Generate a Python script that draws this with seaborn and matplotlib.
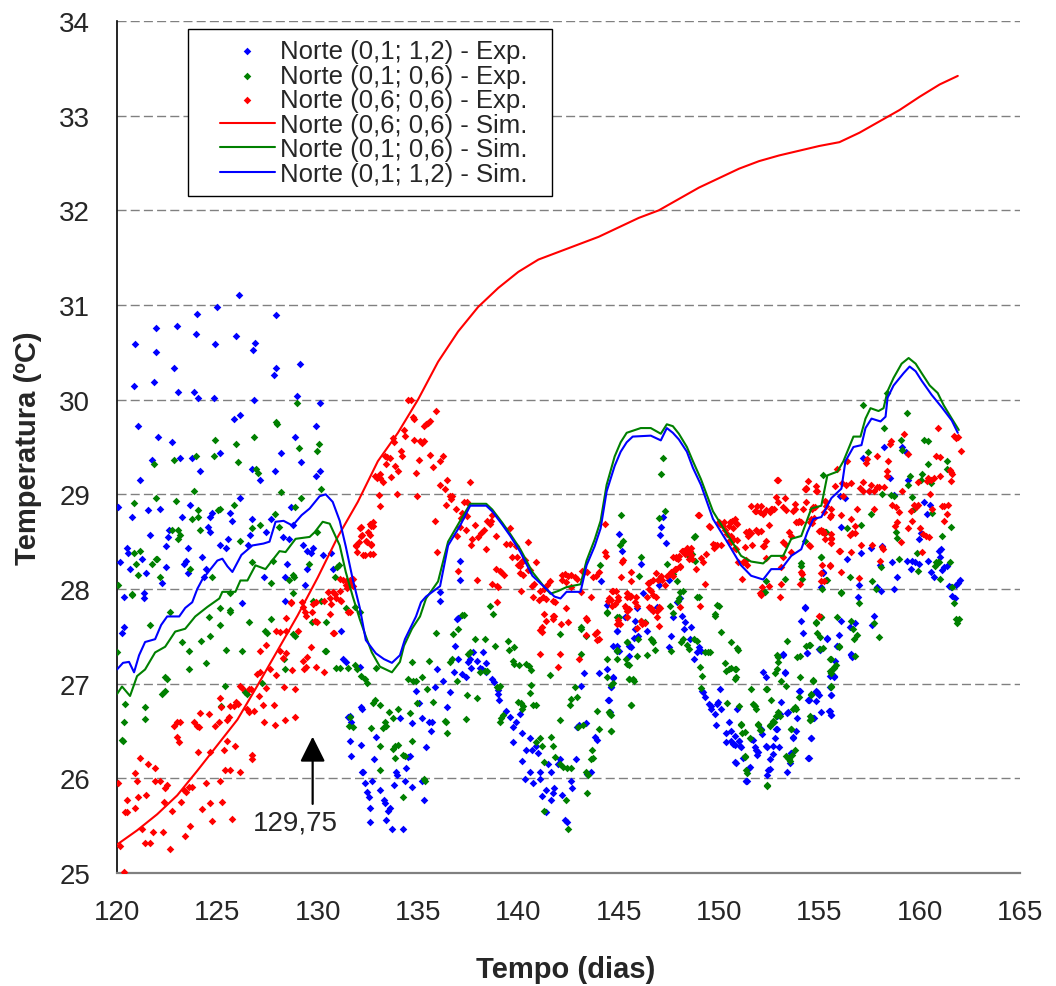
import matplotlib
matplotlib.use("Agg")
import matplotlib.pyplot as plt
from matplotlib.patches import Rectangle
import seaborn as sns

# ---------------------------------------------------------------------------
# Data: days (tempo) and temperatures (ºC)
# ---------------------------------------------------------------------------

# Experimental readings, Norte (0,1; 1,2)
exp_01_12 = [
    (126.1, 31.11), (127.9, 30.89), (125.0, 30.98), (124.0, 30.90), (123.0, 30.78), (121.95, 30.76),
    (120.9, 30.59), (121.95, 30.50), (123.95, 30.69), (125.95, 30.67), (124.9, 30.59), (126.9, 30.60),
    (126.8, 30.52), (127.9, 30.33), (127.8, 30.26), (129.1, 30.38), (122.85, 30.33), (120.85, 30.14),
    (121.85, 30.19), (123.05, 30.08), (123.85, 30.08), (124.05, 30.02), (124.85, 30.02), (126.85, 30.0),
    (128.95, 30.04), (130.1, 29.97), (126.15, 29.84), (125.85, 29.80), (121.05, 29.72), (129.9, 29.72),
    (122.05, 29.61), (122.75, 29.55), (128.85, 29.61), (125.15, 29.44), (128.15, 29.44), (121.75, 29.36),
    (123.15, 29.38), (123.75, 29.38), (129.15, 29.34), (124.15, 29.25), (126.75, 29.27), (127.15, 29.15),
    (127.85, 29.25), (129.9, 29.19), (130.1, 29.25), (121.15, 29.15), (126.15, 28.96), (120.05, 28.87),
    (123.65, 28.89), (122.15, 28.85), (121.55, 28.83), (120.75, 28.76), (123.25, 28.76), (124.65, 28.76),
    (124.75, 28.80), (125.65, 28.80), (125.75, 28.72), (126.75, 28.74), (127.65, 28.74), (128.65, 28.87),
    (128.75, 28.68), (121.65, 28.57), (122.55, 28.55), (122.6, 28.62), (124.55, 28.66), (124.65, 28.60),
    (125.55, 28.53), (126.65, 28.57), (127.45, 28.60), (128.25, 28.55), (128.55, 28.53), (120.5, 28.43),
    (120.55, 28.38), (122.45, 28.45), (123.55, 28.43), (125.15, 28.47), (125.45, 28.43), (126.55, 28.47),
    (129.25, 28.47), (129.45, 28.40), (129.65, 28.38), (129.75, 28.43), (121.25, 28.32), (120.15, 28.28),
    (124.25, 28.34), (123.35, 28.26), (123.45, 28.30), (130.25, 28.36), (130.65, 28.38), (120.65, 28.21),
    (121.45, 28.17), (122.45, 28.23), (122.25, 28.06), (123.55, 28.17), (124.45, 28.21), (124.35, 28.13),
    (128.45, 28.26), (127.35, 28.13), (128.35, 28.13), (129.45, 28.21), (129.35, 28.04), (120.35, 27.92),
    (121.35, 27.96), (121.35, 27.90), (126.25, 27.85), (128.35, 27.87), (120.35, 27.60), (120.25, 27.54),
    (130.75, 28.21), (131.15, 27.56), (131.25, 27.26), (131.4, 27.23), (132.1, 27.18),
    (131.6, 26.66), (131.65, 26.59), (131.6, 26.39), (131.65, 26.24), (132.2, 26.73), (132.2, 26.07),
    (131.5, 26.65), (132.15, 26.75), (132.15, 26.35), (132.25, 26.07), (132.35, 25.95), (132.45, 25.86),
    (132.55, 25.80), (132.6, 25.69), (132.6, 25.54), (132.7, 25.97), (132.8, 26.20), (132.9, 26.44),
    (133.1, 25.88), (133.3, 25.77), (133.35, 25.74), (133.4, 25.56), (133.5, 25.65), (133.6, 25.69),
    (133.7, 25.46), (133.8, 25.93), (133.9, 26.07), (133.95, 26.03), (134.1, 26.64), (134.25, 25.46),
    (134.35, 25.97), (134.4, 26.11), (134.5, 26.23), (134.6, 26.24), (134.7, 26.58), (134.7, 25.91),
    (135.05, 26.80), (135.2, 25.97), (135.3, 25.77), (135.2, 26.64), (135.4, 26.33), (135.55, 26.59),
    (135.7, 26.59), (135.65, 26.50), (134.9, 26.92), (135.85, 26.96), (135.95, 27.15), (136.1, 27.87),
    (136.1, 27.97), (137.1, 28.09), (137.1, 28.30), (137.0, 27.69), (136.45, 26.75), (136.25, 27.03),
    (136.6, 26.91), (136.8, 27.12), (136.85, 27.40), (136.95, 27.68), (137.0, 27.26), (137.2, 27.10),
    (137.4, 27.07), (137.5, 27.23), (137.6, 27.26), (137.65, 27.17), (137.75, 27.33), (137.95, 27.24),
    (138.1, 27.17), (138.2, 27.15), (138.25, 27.33), (138.4, 27.22), (138.4, 27.12), (138.7, 27.05),
    (138.8, 27.02), (138.98, 26.93), (139.0, 26.89), (139.05, 26.83), (139.4, 26.71), (139.6, 26.65),
    (139.75, 26.54), (139.9, 26.59), (140.1, 26.68), (139.75, 26.38), (140.2, 26.18), (140.2, 26.48),
    (140.35, 25.99), (140.4, 26.30), (140.6, 26.43), (140.6, 26.07), (140.7, 26.30), (140.75, 25.95),
    (140.9, 26.34), (141.0, 26.27), (141.1, 26.07), (141.1, 25.99), (141.2, 25.81), (141.4, 25.88),
    (141.4, 25.64), (141.5, 26.15), (141.65, 26.07), (141.65, 25.77), (141.75, 25.85), (141.8, 25.90),
    (142.0, 26.15), (142.1, 26.20), (142.2, 25.82), (142.35, 25.56), (142.45, 25.54), (142.6, 25.97),
    (142.65, 25.90), (142.85, 26.20), (142.9, 26.54), (143.0, 26.56), (143.1, 26.98), (143.25, 27.11),
    (143.35, 26.58), (143.4, 26.05), (143.6, 26.07), (143.8, 26.44), (143.9, 26.41), (144.0, 27.11),
    (144.4, 27.15), (144.45, 26.83), (144.6, 26.96), (144.7, 27.06), (144.7, 27.40), (144.9, 27.56),
    (145.0, 27.34), (145.4, 27.70), (145.5, 27.40),
    (145.0, 28.58), (145.15, 28.40), (147.2, 28.76), (147.1, 28.66), (147.05, 28.57), (147.35, 28.49),
    (146.1, 28.26), (147.0, 28.04), (147.5, 28.09), (146.2, 27.96), (144.4, 27.83), (144.1, 28.08),
    (145.3, 27.70), (145.9, 27.80), (144.9, 27.56), (145.8, 27.66), (145.8, 27.58), (145.95, 27.50),
    (145.75, 27.48), (146.4, 27.56), (146.6, 27.79), (146.9, 27.81), (147.7, 27.70), (147.9, 27.86),
    (148.05, 27.91), (148.15, 27.71), (148.3, 27.65), (148.25, 27.58), (148.6, 27.60), (148.55, 27.47),
    (147.6, 27.50), (145.6, 27.39), (145.55, 27.40), (145.5, 27.29), (144.9, 27.40), (144.9, 27.34),
    (144.7, 27.07), (144.6, 26.97), (144.5, 26.83), (144.55, 26.70), (147.5, 27.39), (149.0, 27.39),
    (149.1, 27.35), (148.9, 27.33), (148.75, 27.26), (149.15, 26.92), (149.2, 26.91), (149.3, 26.86),
    (149.5, 26.78), (149.6, 26.76), (149.6, 26.73), (149.9, 26.78), (149.8, 26.68), (149.85, 26.56),
    (150.05, 26.94), (149.95, 26.81), (150.1, 26.73), (150.35, 26.48), (150.5, 26.59), (150.6, 26.50),
    (150.6, 26.39), (150.7, 26.36), (150.35, 26.38), (150.8, 26.17), (151.0, 26.39), (151.05, 26.34),
    (151.35, 25.97), (151.4, 25.97), (151.55, 26.12), (151.7, 26.41), (151.85, 26.30), (151.9, 26.25),
    (152.1, 26.52), (152.2, 27.12), (152.35, 27.07), (152.35, 26.34), (152.45, 26.09), (152.4, 26.03),
    (152.55, 26.20), (152.7, 26.34), (152.85, 26.52), (153.1, 26.81), (153.05, 26.68), (153.2, 27.31),
    (153.3, 27.12), (153.45, 26.70), (153.6, 26.27), (153.7, 26.44), (153.85, 26.50), (154.05, 26.92),
    (154.1, 27.66), (154.2, 27.54), (154.3, 27.81), (154.45, 26.22), (154.6, 26.43), (154.45, 26.83),
    (154.85, 26.91), (155.05, 27.36), (155.1, 26.70), (155.2, 28.18), (155.55, 27.08), (155.55, 26.71),
    (155.55, 26.97), (153.3, 27.11), (153.2, 27.30), (154.4, 27.32), (155.4, 27.47), (155.9, 27.40),
    (155.8, 27.24), (155.75, 27.07), (156.6, 27.30), (156.65, 27.28), (154.0, 26.92), (154.5, 26.83),
    (154.9, 26.91), (155.6, 26.88), (155.6, 26.67), (154.7, 26.64), (153.4, 26.69), (153.9, 26.64),
    (152.9, 26.66), (152.9, 26.52), (152.8, 26.43), (153.7, 26.43), (154.6, 26.43), (153.6, 26.27),
    (154.5, 26.22), (153.55, 26.16), (153.4, 26.07), (152.55, 26.10), (152.7, 26.26), (153.0, 26.33),
    (152.4, 26.33), (151.8, 26.33), (151.95, 26.28), (151.6, 26.42), (152.15, 26.47), (151.1, 26.33),
    (151.0, 26.39), (150.8, 26.35), (150.8, 26.45), (150.9, 26.73), (150.85, 26.16), (151.2, 26.21),
    (151.5, 26.11), (151.35, 25.97),
    (158.2, 29.50), (157.2, 29.38), (157.5, 29.03), (159.1, 29.50), (159.3, 29.45), (158.5, 29.17),
    (159.4, 29.15), (158.7, 28.99), (156.1, 28.66), (156.3, 28.96), (156.05, 28.98), (160.2, 28.92),
    (160.5, 28.89), (160.35, 28.79), (159.95, 28.53), (160.05, 28.59), (158.1, 28.45), (157.1, 28.38),
    (157.55, 28.43), (156.4, 28.32), (158.6, 28.29), (159.35, 28.30), (159.6, 28.30), (159.75, 28.29),
    (159.55, 28.21), (159.95, 28.26), (160.4, 28.30), (160.95, 28.40), (161.05, 28.42), (161.0, 28.34),
    (161.2, 28.23), (161.35, 28.24), (161.1, 28.20), (160.55, 28.18), (160.7, 28.13), (158.0, 28.25),
    (158.85, 28.13), (155.2, 28.17), (155.1, 28.02), (157.0, 28.04), (157.85, 28.02), (158.05, 27.98),
    (158.7, 28.00), (161.45, 28.03), (161.55, 28.02), (161.8, 28.04), (161.9, 28.06), (162.0, 28.09),
    (161.6, 27.93), (161.75, 27.91), (156.95, 27.92), (154.3, 27.80), (157.7, 27.71), (157.6, 27.62),
    (156.1, 27.66), (156.8, 27.64), (156.55, 27.60), (156.0, 27.51), (155.4, 27.48), (155.0, 27.37),
    (154.4, 27.32), (156.6, 27.31), (156.7, 27.29), (155.9, 27.40), (155.75, 27.08), (155.6, 26.88),
    (154.85, 26.92), (155.0, 26.88), (154.85, 26.82), (154.5, 26.83), (155.5, 26.71), (155.6, 26.67),
    (154.75, 26.64),
]

# Experimental readings, Norte (0,1; 0,6)
exp_01_06 = [
    (128.95, 29.97), (127.9, 29.76), (127.95, 29.74), (126.85, 29.61), (125.95, 29.53), (124.9, 29.57),
    (130.05, 29.53), (129.05, 29.49), (129.95, 29.46), (123.95, 29.40), (124.85, 29.40), (126.05, 29.34),
    (122.85, 29.36), (121.85, 29.32), (126.95, 29.27), (127.05, 29.23), (123.85, 29.04), (128.15, 29.02),
    (130.15, 29.06), (121.95, 28.96), (122.95, 28.93), (120.85, 28.91), (129.15, 28.96), (128.85, 28.87),
    (125.85, 28.89), (124.05, 28.83), (125.15, 28.85), (125.05, 28.83), (127.85, 28.79), (123.75, 28.74),
    (124.05, 28.76), (122.75, 28.62), (123.05, 28.62), (123.15, 28.57), (123.05, 28.53), (124.15, 28.62),
    (126.75, 28.64), (127.15, 28.68), (128.05, 28.66), (129.95, 28.60), (126.15, 28.51), (120.85, 28.38),
    (121.15, 28.40), (121.95, 28.32), (122.0, 28.32), (121.75, 28.26), (120.95, 28.26), (121.05, 28.15),
    (122.15, 28.13), (123.65, 28.21), (126.75, 28.28), (127.75, 28.30), (129.55, 28.26), (120.05, 28.04),
    (124.75, 28.13), (127.65, 28.06), (128.75, 28.15), (128.8, 28.13), (128.55, 28.09), (120.75, 27.94),
    (125.65, 27.96), (128.75, 27.96), (130.95, 28.23), (131.05, 28.25), (130.85, 28.13), (120.0, 27.33),
    (121.65, 27.62), (120.4, 26.79), (120.35, 26.60), (120.3, 26.39), (120.25, 26.41), (121.4, 26.75),
    (121.4, 26.63), (122.25, 26.89), (122.4, 26.92), (122.5, 27.05), (122.4, 27.07), (123.6, 27.35),
    (123.6, 27.16), (123.25, 27.44), (124.2, 27.45), (124.65, 27.50), (124.45, 27.22), (125.15, 27.62),
    (125.45, 27.36), (125.65, 27.76), (126.25, 27.34), (125.4, 26.98), (125.2, 26.76), (126.4, 26.91),
    (126.5, 26.89), (126.6, 27.65), (127.4, 27.56), (127.5, 27.54), (127.25, 27.01), (128.3, 27.26),
    (128.35, 27.15), (127.65, 27.68), (128.75, 27.52), (128.85, 27.50), (129.7, 27.65), (130.4, 27.65),
    (130.35, 27.34), (130.4, 27.34), (129.75, 27.87), (130.15, 27.87), (130.9, 27.17), (131.1, 27.17),
    (131.6, 26.65), (131.55, 26.55), (131.75, 26.54), (120.75, 27.95), (122.65, 27.76), (124.6, 27.70),
    (125.15, 27.80), (125.65, 27.78),
    (131.4, 27.80), (131.85, 27.81), (132.1, 27.76), (131.5, 27.17), (131.85, 27.20), (131.95, 27.15),
    (132.15, 27.08), (132.35, 27.05), (132.45, 27.01), (132.9, 27.17), (132.85, 26.83), (132.75, 26.80),
    (133.1, 26.77), (133.55, 26.70), (133.35, 26.60), (133.75, 26.64), (132.65, 26.53), (133.25, 26.53),
    (133.4, 26.55), (134.0, 26.73), (134.6, 26.69), (133.1, 26.34), (133.75, 26.31), (133.85, 26.34),
    (134.0, 26.35), (134.25, 26.25), (134.35, 26.24), (133.85, 26.21), (134.7, 26.39), (133.1, 26.09),
    (135.3, 25.99), (135.35, 25.97), (134.25, 25.80), (134.7, 27.23), (135.2, 27.07), (135.55, 27.24),
    (134.5, 27.05), (134.75, 27.03), (134.9, 27.03), (135.45, 26.94), (135.75, 26.81), (134.95, 26.80),
    (136.35, 26.61), (136.4, 26.60), (136.45, 26.48), (135.9, 27.54), (136.75, 27.52), (137.0, 27.58),
    (137.2, 27.73), (137.3, 27.73), (136.6, 27.23), (136.7, 27.26), (136.95, 27.03), (137.45, 26.88),
    (137.4, 26.63), (137.95, 26.85), (137.5, 27.31), (137.6, 27.33), (137.85, 27.47), (138.35, 27.47),
    (138.1, 27.12), (138.35, 27.13), (138.45, 27.13), (138.6, 27.82), (138.75, 27.74), (138.85, 27.40),
    (138.95, 26.96), (139.05, 26.97), (139.1, 26.98), (139.1, 26.59), (139.15, 26.64), (139.25, 26.67),
    (139.5, 27.45), (139.55, 27.36), (139.8, 27.39), (139.75, 27.24), (139.8, 27.21), (140.05, 27.20),
    (140.0, 26.81), (140.2, 26.73), (140.25, 26.76), (140.4, 27.21), (140.55, 27.19), (140.65, 27.14),
    (140.15, 26.80), (140.65, 26.99), (140.75, 26.77), (140.9, 26.77), (140.6, 26.90), (141.1, 26.43),
    (141.2, 26.34), (141.3, 26.17), (140.9, 26.38), (141.65, 26.44), (141.75, 26.34), (141.85, 26.23),
    (142.1, 26.15), (142.25, 26.12), (142.45, 26.11), (142.6, 26.11), (141.3, 25.65), (142.4, 25.77),
    (142.5, 25.46), (143.35, 26.07), (143.45, 26.03), (143.4, 25.85), (143.1, 27.60), (143.35, 27.50),
    (143.1, 27.31), (142.1, 27.52), (141.6, 27.09), (142.1, 26.62), (142.8, 26.97), (142.9, 26.86),
    (142.6, 26.84), (142.55, 26.77), (142.95, 26.54), (143.2, 26.56), (143.7, 26.22), (143.6, 26.20),
    (143.65, 26.30), (144.0, 26.52), (143.9, 26.71), (144.4, 27.07), (144.4, 27.26), (144.5, 26.70),
    (144.6, 26.67), (144.6, 26.50), (144.9, 27.34), (144.9, 27.70), (145.4, 27.44), (145.6, 26.77),
    (145.4, 27.21), (145.5, 27.05), (145.7, 27.05), (144.05, 28.25), (143.1, 27.58), (144.4, 27.75),
    (147.2, 29.38), (147.1, 29.21), (147.3, 28.82), (147.0, 28.75), (145.1, 28.78), (145.05, 28.46),
    (145.2, 28.51), (146.1, 28.34), (146.0, 28.14), (147.4, 28.26), (147.7, 28.16), (148.8, 28.56),
    (148.75, 28.55), (148.4, 28.37), (148.5, 28.35), (148.65, 28.37), (148.8, 28.30), (147.0, 28.11),
    (147.9, 28.08), (148.05, 27.97), (148.2, 27.98), (148.0, 27.91), (147.95, 27.87), (149.0, 27.92),
    (148.9, 27.92), (149.9, 27.83), (144.4, 27.76), (145.0, 27.70), (146.1, 27.66), (146.3, 27.65),
    (145.95, 27.47), (146.6, 27.47), (146.65, 27.46), (146.7, 27.44), (146.8, 27.36), (146.4, 27.30),
    (145.9, 27.29), (145.4, 27.44), (145.5, 27.20), (145.35, 27.26), (144.9, 27.26), (144.9, 27.36),
    (145.5, 27.05), (145.75, 27.03), (144.7, 27.01), (144.6, 26.99), (144.5, 26.70), (144.55, 26.68),
    (144.6, 26.50), (145.6, 26.77), (147.55, 27.82), (147.7, 27.75), (148.2, 27.47), (148.1, 27.44),
    (148.4, 27.41), (148.5, 27.37), (147.6, 27.34), (148.75, 27.47), (148.9, 27.45), (149.05, 27.18),
    (149.3, 27.33), (149.45, 27.33), (149.55, 27.33), (150.0, 27.82), (149.8, 27.74), (149.8, 27.71),
    (150.1, 27.55), (150.6, 27.44), (150.95, 27.36), (149.15, 27.08), (149.1, 26.95), (150.3, 27.22),
    (150.35, 27.13), (150.5, 27.15), (150.6, 27.17), (150.8, 27.16), (150.85, 27.07), (150.4, 26.80),
    (151.6, 26.94), (151.0, 26.76), (151.7, 26.78), (151.8, 26.76), (151.85, 26.73), (151.1, 26.57),
    (151.15, 26.48), (151.3, 26.49), (151.55, 26.43), (151.35, 26.09), (151.4, 26.06), (151.3, 26.23),
    (152.4, 25.93), (151.95, 26.57), (152.1, 26.51), (152.35, 26.94), (152.55, 26.55), (152.7, 26.61),
    (152.95, 26.70), (152.85, 26.66), (152.95, 27.23), (152.9, 27.15), (152.95, 27.28), (153.35, 26.98),
    (153.45, 26.22), (153.55, 26.18), (153.65, 26.25), (153.8, 26.30), (153.6, 26.52), (153.85, 26.73),
    (153.8, 26.75), (154.0, 26.86), (154.05, 27.29), (154.35, 27.40), (154.55, 26.66), (154.6, 26.63),
    (154.7, 27.03), (154.85, 27.65), (155.1, 27.70), (155.05, 27.49), (155.2, 27.38), (155.6, 26.97),
    (155.55, 27.13), (155.6, 27.26), (154.1, 28.24), (155.3, 28.60), (155.1, 28.34), (154.15, 28.11),
    (155.35, 28.09), (153.3, 28.11), (152.35, 28.08), (152.2, 27.98), (152.3, 27.97), (154.1, 28.27),
    (154.3, 28.51), (153.4, 27.45), (154.55, 27.41), (155.05, 27.37), (156.0, 27.40), (156.75, 27.47),
    (156.8, 27.29), (155.75, 27.17), (155.85, 27.20), (155.6, 27.11), (152.9, 27.30), (153.9, 27.28),
    (152.8, 27.11), (153.1, 27.03), (154.05, 27.07), (154.7, 27.03), (150.9, 27.38), (150.85, 27.15),
    (150.8, 27.05), (152.4, 26.94), (152.6, 26.83), (154.6, 26.88), (151.75, 26.77), (153.05, 26.66),
    (153.7, 26.73), (154.55, 26.62), (151.1, 26.56), (151.95, 26.56), (152.05, 26.51), (152.55, 26.56),
    (152.75, 26.59), (153.6, 26.52), (151.3, 26.24), (153.35, 26.24), (153.5, 26.20), (152.4, 25.92),
    (157.2, 29.94), (159.35, 29.86), (158.2, 29.70), (158.35, 30.07), (159.05, 29.57), (159.1, 29.47),
    (160.2, 29.57), (160.4, 29.56), (157.45, 29.45), (160.4, 29.32), (161.35, 29.35), (161.35, 29.27),
    (159.5, 29.19), (160.1, 29.22), (160.05, 29.15), (159.4, 29.10), (160.55, 29.12), (158.1, 29.00),
    (159.6, 28.97), (158.7, 28.98), (158.55, 28.99), (157.55, 28.79), (157.1, 28.68), (156.4, 28.64),
    (155.35, 28.60), (158.8, 28.60), (158.85, 28.54), (161.1, 28.56), (161.55, 28.66), (160.6, 28.80),
    (159.7, 28.85), (159.85, 28.38), (158.95, 28.32), (158.05, 28.23), (159.9, 28.19), (160.8, 28.29),
    (160.9, 28.29), (160.95, 28.28), (160.75, 28.24), (161.5, 28.28), (161.0, 28.11), (161.6, 28.02),
    (161.7, 27.85), (161.8, 27.68), (161.95, 27.68), (161.85, 27.64), (155.1, 28.34), (155.4, 28.09),
    (156.55, 28.13), (157.6, 28.08), (157.8, 28.00), (156.1, 27.96), (157.0, 27.85), (155.1, 27.70),
    (155.9, 27.70), (156.6, 27.66), (156.7, 27.58), (156.9, 27.51), (157.7, 27.64), (157.95, 27.49),
    (154.85, 27.64), (154.9, 27.53), (154.5, 27.41), (156.0, 27.39), (155.55, 27.26), (155.75, 27.18),
    (155.6, 27.11), (155.6, 26.98), (154.7, 27.04), (154.6, 26.89), (154.55, 26.62), (155.2, 29.20),
    (156.1, 27.97), (155.15, 28.00),
]

# Experimental readings, Norte (0,6; 0,6)
exp_06_06 = [
    (120.05, 25.95), (120.15, 25.28), (120.35, 25.01), (120.4, 25.64), (120.5, 25.64), (120.5, 25.77),
    (120.9, 26.06), (121.0, 25.97), (120.9, 25.69), (121.15, 26.22), (121.05, 25.80), (121.45, 25.82),
    (121.55, 26.15), (121.9, 26.11), (121.9, 25.97), (122.15, 25.97), (122.4, 25.90), (122.35, 25.75),
    (121.4, 25.32), (121.65, 25.32), (121.25, 25.46), (121.8, 25.43), (122.3, 25.43), (122.65, 25.25),
    (122.75, 25.65), (122.5, 25.93), (123.0, 26.60), (123.15, 26.60), (122.85, 26.55), (123.0, 26.44),
    (123.1, 26.38), (123.35, 25.88), (123.45, 25.86), (123.4, 25.39), (123.65, 25.50), (123.6, 25.91),
    (123.75, 25.91), (123.2, 25.75), (123.85, 26.60), (124.0, 26.55), (124.1, 26.54), (124.15, 26.69),
    (124.05, 26.28), (124.6, 26.68), (124.9, 26.55), (125.1, 26.59), (124.65, 26.28), (124.45, 25.95),
    (124.25, 25.68), (124.65, 25.74), (124.75, 25.55), (125.25, 25.75), (125.15, 25.97), (125.4, 26.09),
    (125.65, 26.09), (125.35, 26.30), (125.5, 26.39), (125.5, 26.62), (125.6, 26.65), (125.2, 26.75),
    (125.15, 26.85), (125.65, 26.76), (125.85, 26.76), (125.75, 25.57), (125.95, 26.81), (126.05, 26.78),
    (126.15, 26.98), (126.25, 26.95), (125.9, 26.34), (126.15, 26.07), (126.5, 26.73), (126.6, 26.70),
    (126.85, 26.71), (126.75, 26.25), (126.75, 26.20), (126.6, 26.94), (126.7, 26.94), (127.1, 26.87),
    (127.3, 26.77), (127.8, 26.77), (127.35, 26.60), (127.85, 26.56), (128.35, 26.62), (128.85, 26.65),
    (127.0, 27.10), (127.15, 27.12), (127.45, 26.95), (127.9, 27.09), (128.3, 26.96), (128.85, 26.94),
    (127.45, 27.41), (127.15, 27.35), (128.1, 27.34), (128.4, 27.32), (128.25, 27.27), (127.6, 27.16),
    (128.7, 27.14), (129.3, 27.15), (129.4, 27.18), (129.25, 27.24), (129.45, 27.28), (129.9, 27.18),
    (130.3, 27.12), (129.65, 27.39), (127.9, 27.56), (128.1, 27.55), (128.4, 27.56), (128.4, 27.69),
    (129.0, 27.56), (129.35, 27.76), (129.4, 27.71), (129.7, 27.76), (129.85, 27.66), (129.95, 27.65),
    (129.75, 27.84), (128.65, 27.86), (129.2, 27.86), (130.6, 27.74), (130.65, 27.84), (130.8, 27.54),
    (130.3, 27.87), (130.5, 27.97), (130.75, 27.97), (131.1, 27.98), (131.25, 28.09), (131.4, 28.08),
    (131.6, 28.06), (131.45, 28.01), (131.75, 28.03), (128.65, 27.85), (129.25, 27.81), (129.9, 27.86),
    (130.6, 27.91), (130.85, 27.95), (131.1, 28.11), (131.4, 28.04), (131.6, 28.09), (131.75, 28.11),
    (131.9, 28.46), (132.1, 28.64), (132.15, 28.56), (132.4, 28.51), (132.5, 28.60), (132.6, 28.37),
    (132.75, 28.37), (132.65, 28.48), (132.75, 28.67), (132.6, 28.69), (130.75, 27.54), (131.15, 27.87),
    (131.6, 27.76), (130.9, 27.90), (131.1, 27.88), (131.5, 27.76),
    (134.5, 30.00), (134.65, 30.00), (135.9, 29.88), (134.75, 29.82), (134.8, 29.80), (135.6, 29.77),
    (135.5, 29.75), (135.4, 29.74), (135.3, 29.72), (134.3, 29.68), (134.35, 29.62), (134.8, 29.57),
    (133.75, 29.59), (133.8, 29.55), (135.1, 29.56), (135.2, 29.54), (135.3, 29.56), (134.15, 29.46),
    (134.2, 29.40), (135.6, 29.42), (136.25, 29.41), (136.1, 29.35), (133.35, 29.41), (133.45, 29.39),
    (133.6, 29.38), (133.4, 29.32), (133.85, 29.30), (134.0, 29.25), (133.1, 29.22), (132.85, 29.19),
    (132.95, 29.17), (133.1, 29.17), (133.25, 29.13), (133.65, 29.18), (134.9, 29.23), (135.05, 29.36),
    (135.75, 29.29), (133.05, 28.99), (133.1, 28.88), (133.95, 29.00), (134.95, 28.98), (136.1, 29.10),
    (136.45, 29.15), (136.35, 29.06), (136.6, 28.98), (136.7, 28.98), (136.65, 28.95), (136.4, 28.89),
    (136.9, 28.85), (137.3, 28.92), (137.45, 28.92), (137.6, 29.13), (137.15, 28.75), (137.45, 28.77),
    (137.2, 28.80), (137.85, 28.68), (132.75, 28.71), (132.65, 28.67), (132.15, 28.65), (132.2, 28.57),
    (132.6, 28.57), (132.05, 28.50), (132.45, 28.50), (132.65, 28.47), (131.9, 28.45), (131.95, 28.39),
    (132.25, 28.36), (132.35, 28.36), (135.85, 28.72), (137.1, 28.65), (137.4, 28.62), (137.7, 28.53),
    (138.0, 28.55), (138.15, 28.59), (138.3, 28.62), (138.4, 28.42), (137.65, 28.47), (138.45, 28.72),
    (138.6, 28.69), (138.65, 28.72), (138.7, 28.78), (138.9, 28.56), (135.95, 28.39), (136.95, 28.56),
    (137.0, 28.19), (137.95, 28.09), (138.9, 28.21), (139.1, 28.19), (139.15, 28.18), (139.3, 28.15),
    (138.7, 28.05), (138.95, 28.03), (139.0, 28.02), (139.6, 28.64), (139.4, 28.48), (139.6, 28.48),
    (139.9, 28.45), (139.7, 28.34), (139.95, 28.34), (140.0, 28.25), (140.1, 28.24), (140.15, 28.27),
    (140.2, 28.30), (140.35, 28.31), (140.5, 28.50), (140.9, 28.29), (140.1, 28.17), (140.25, 28.15),
    (140.5, 28.20), (140.6, 28.20), (140.7, 28.03), (140.8, 28.05), (140.15, 27.98), (141.1, 27.98),
    (141.3, 28.00), (141.45, 28.04), (141.6, 28.08), (140.75, 27.92), (141.25, 27.92), (141.05, 27.88),
    (141.4, 27.89), (141.75, 27.87), (141.85, 27.86), (142.2, 28.15), (142.35, 28.16), (142.5, 28.14),
    (142.6, 28.15), (142.8, 28.13), (142.9, 28.11), (142.2, 28.09), (142.4, 28.07), (142.6, 28.02),
    (143.1, 27.97), (143.15, 28.19), (143.25, 28.18), (143.4, 28.18), (143.7, 28.13), (143.85, 28.14),
    (144.0, 28.18), (143.6, 27.92), (144.3, 28.39), (144.35, 28.35), (144.3, 28.69), (141.75, 27.71),
    (141.75, 27.68), (141.3, 27.74), (142.4, 27.80), (141.2, 27.60), (143.35, 27.69), (144.65, 27.98),
    (144.85, 27.98), (144.5, 27.90), (144.45, 27.87), (144.8, 27.84), (144.95, 27.92), (145.1, 28.13),
    (145.4, 27.92), (145.6, 27.93), (145.35, 27.80), (145.4, 27.77), (145.5, 27.79), (144.9, 27.63),
    (145.6, 28.18), (143.4, 27.67), (143.9, 27.55), (144.0, 27.47), (143.35, 27.51), (142.5, 27.65),
    (138.95, 27.86), (141.1, 27.31), (142.0, 27.18), (142.1, 27.31), (143.0, 27.26), (141.4, 27.66),
    (141.8, 27.71), (142.15, 27.63), (141.2, 27.55), (141.1, 27.57), (143.8, 27.52), (143.9, 27.46),
    (144.6, 27.88), (144.95, 27.88), (145.3, 27.82), (144.95, 27.67), (145.05, 27.63), (145.4, 27.70),
    (145.15, 28.29), (145.2, 28.31), (145.6, 28.08), (144.7, 27.98), (144.65, 27.82), (145.4, 27.96),
    (145.55, 27.92), (145.8, 27.86), (145.85, 27.92), (145.9, 27.82), (146.1, 27.66), (146.15, 27.63),
    (146.3, 27.64), (145.9, 27.59), (146.4, 27.92), (146.5, 27.81), (146.6, 27.80), (146.7, 27.77),
    (146.9, 27.77), (147.0, 27.81), (147.05, 27.80), (146.9, 27.70), (147.0, 27.61), (146.85, 27.92),
    (146.7, 27.94), (146.6, 27.98), (146.55, 28.07), (146.5, 28.00), (147.05, 28.11), (147.1, 28.14),
    (147.4, 28.14), (147.6, 28.16), (147.6, 28.18), (147.8, 28.21), (147.85, 28.21), (147.95, 28.32),
    (147.85, 28.34), (148.05, 28.24), (148.15, 28.40), (148.3, 28.37), (148.4, 28.43), (148.6, 28.43),
    (148.55, 28.37), (148.5, 28.32), (148.65, 28.32), (149.1, 28.33), (149.2, 28.29), (149.35, 28.37),
    (148.85, 28.21), (149.3, 28.05), (149.05, 27.82), (148.05, 27.81), (148.95, 28.78), (149.55, 28.66),
    (150.05, 28.69), (150.2, 28.67), (150.3, 28.62), (150.55, 28.71), (150.8, 28.74), (150.85, 28.70),
    (150.7, 28.64), (150.4, 28.58), (150.5, 28.51), (150.7, 28.53), (150.6, 28.50), (149.8, 28.46),
    (149.75, 28.43), (149.9, 28.47), (150.8, 28.43), (150.85, 28.42), (150.95, 28.29), (151.3, 28.44),
    (151.35, 28.60), (151.5, 28.61), (151.85, 28.62), (151.95, 28.60), (152.35, 28.51), (152.2, 28.45),
    (151.6, 28.88), (151.8, 28.82), (151.85, 28.82), (152.35, 28.83), (152.6, 28.85), (152.75, 28.85),
    (152.5, 28.68), (152.9, 29.15), (152.95, 29.15), (153.2, 28.50), (153.2, 28.87), (153.35, 28.83),
    (153.7, 28.82), (153.8, 28.90), (153.85, 28.71), (154.0, 28.72), (154.1, 28.71), (154.2, 28.85),
    (154.35, 29.06), (154.45, 29.14), (154.7, 28.87), (154.85, 29.03), (154.55, 28.71), (154.65, 28.70),
    (155.1, 28.62), (155.35, 28.92), (155.35, 28.88), (155.55, 28.76), (155.6, 28.53), (156.05, 28.40),
    (153.1, 28.23), (153.1, 28.05), (152.15, 28.02), (152.1, 27.94), (153.05, 27.92), (154.05, 28.05),
    (154.5, 28.46), (155.15, 28.25), (155.55, 28.24), (153.6, 28.39), (147.7, 28.34), (147.85, 28.33),
    (148.0, 28.35), (148.2, 28.40), (148.35, 28.38), (148.55, 28.40), (148.6, 28.36), (147.55, 28.16),
    (147.7, 28.14), (147.15, 28.10), (147.3, 28.04), (146.95, 28.09), (146.7, 28.09), (146.45, 28.06),
    (146.85, 28.17), (148.05, 28.23), (149.0, 28.78), (149.5, 28.67), (149.7, 28.48), (150.0, 28.71),
    (150.1, 28.69), (150.25, 28.71), (150.5, 28.67), (150.65, 28.72), (150.9, 28.69), (150.1, 28.47),
    (150.6, 28.56), (150.9, 28.52), (151.45, 28.56), (151.6, 28.59), (151.65, 28.47), (152.1, 28.61),
    (151.9, 28.88), (152.1, 28.88), (152.05, 28.81), (152.2, 28.79), (152.55, 28.81), (152.65, 28.84),
    (152.85, 28.97), (152.95, 28.92), (153.3, 28.96), (153.8, 28.85), (154.3, 29.06), (154.35, 28.92),
    (154.65, 28.85), (153.95, 28.71), (153.5, 28.60), (153.6, 28.56), (153.3, 28.48), (153.2, 28.34),
    (152.35, 28.33), (152.25, 28.45), (151.15, 28.11), (151.2, 28.29), (151.35, 28.31), (151.4, 28.25),
    (152.05, 27.96), (152.5, 28.03), (154.1, 28.18), (154.15, 28.16), (154.55, 28.45), (155.15, 28.60),
    (155.25, 28.59), (155.1, 28.08), (155.25, 28.08), (155.6, 28.49), (155.6, 28.58), (155.0, 27.72),
    (160.9, 29.70), (161.7, 29.62), (161.8, 29.60), (161.9, 29.61), (162.05, 29.46), (159.2, 29.64),
    (158.55, 29.56), (158.5, 29.53), (157.85, 29.40), (158.4, 29.35), (157.4, 29.37), (157.35, 29.33),
    (156.4, 29.35), (155.9, 29.27), (159.4, 29.43), (160.8, 29.40), (161.0, 29.39), (161.5, 29.26),
    (161.55, 29.24), (161.6, 29.22), (161.55, 29.14), (161.0, 29.19), (160.7, 29.17), (160.55, 29.15),
    (160.35, 29.14), (160.4, 29.17), (159.9, 29.13), (158.35, 29.25), (158.35, 29.19), (158.2, 29.08),
    (157.85, 29.08), (157.95, 29.08), (157.55, 29.10), (157.2, 29.13), (157.2, 29.03), (157.7, 29.03),
    (159.1, 29.04), (160.5, 29.00), (159.55, 28.82), (159.7, 28.89), (159.9, 28.89), (159.8, 28.87),
    (160.6, 28.85), (161.1, 28.88), (161.2, 28.88), (161.4, 28.89), (161.35, 28.79), (161.2, 28.72),
    (158.6, 28.89), (158.8, 28.87), (158.95, 28.81), (158.85, 28.71), (158.75, 28.67), (159.05, 28.50),
    (159.6, 28.72), (160.0, 28.64), (160.15, 28.58), (160.3, 28.56), (160.45, 28.55), (159.4, 28.64),
    (160.1, 28.39), (158.1, 28.44), (158.15, 28.42), (158.0, 28.30), (157.6, 28.47), (157.1, 28.47),
    (156.6, 28.39), (156.0, 28.40), (155.55, 28.25), (156.1, 28.18), (155.1, 28.17), (157.0, 28.12),
    (156.9, 28.85), (157.7, 28.85), (156.6, 28.74), (156.8, 28.67), (156.65, 28.59), (156.8, 28.59),
    (156.55, 28.57), (156.2, 28.98), (156.1, 28.78), (155.6, 28.85), (155.6, 28.78), (155.3, 28.53),
    (155.2, 28.61), (155.0, 28.61), (154.75, 28.75), (154.6, 28.74), (154.8, 28.87), (155.25, 28.81),
    (155.8, 29.09), (156.35, 29.10), (156.15, 29.12), (156.6, 29.12), (157.05, 29.07), (157.5, 29.03),
    (155.6, 28.54), (154.9, 29.03), (154.35, 29.07), (154.85, 29.09), (155.3, 28.93),
]

# Simulated curves
sim_06_06 = [
    (120.0, 25.30), (121.0, 25.45), (122.0, 25.62), (123.0, 25.82), (124.0, 26.08), (125.0, 26.35),
    (126.0, 26.62), (127.0, 26.98), (128.0, 27.35), (129.0, 27.72), (130.0, 28.12), (131.0, 28.55),
    (132.0, 28.92), (133.0, 29.35), (134.0, 29.65), (135.0, 30.00), (136.0, 30.40), (137.0, 30.72),
    (138.0, 30.98), (139.0, 31.18), (140.0, 31.35), (141.0, 31.48), (142.0, 31.56), (143.0, 31.64),
    (144.0, 31.72), (145.0, 31.82), (146.0, 31.92), (147.0, 32.00), (148.0, 32.12), (149.0, 32.24),
    (150.0, 32.34), (151.0, 32.44), (152.0, 32.52), (153.0, 32.58), (154.0, 32.63), (155.0, 32.68),
    (156.0, 32.72), (157.0, 32.82), (158.0, 32.94), (159.0, 33.06), (160.0, 33.20), (161.0, 33.33),
    (161.9, 33.42),
]

sim_01_06 = [
    (120.0, 26.89), (120.25, 26.97), (120.65, 26.87), (121.0, 27.08), (121.4, 27.15), (121.9, 27.33),
    (122.4, 27.39), (122.9, 27.55), (123.4, 27.58), (123.9, 27.71), (124.5, 27.81), (125.1, 27.90),
    (125.25, 27.97), (125.9, 27.97), (126.15, 28.09), (126.5, 28.09), (126.9, 28.25), (127.4, 28.21),
    (128.1, 28.40), (128.4, 28.39), (128.9, 28.53), (129.6, 28.55), (129.85, 28.60), (130.25, 28.71),
    (130.6, 28.69), (131.1, 28.46), (131.4, 28.18), (131.75, 27.92), (132.1, 27.68), (132.4, 27.50),
    (132.7, 27.33), (133.1, 27.18), (133.7, 27.12), (134.1, 27.23), (134.3, 27.40), (134.7, 27.58),
    (135.1, 27.71), (135.4, 27.90), (136.0, 28.08), (136.5, 28.50), (137.1, 28.72), (137.6, 28.90),
    (138.4, 28.90), (138.7, 28.84), (139.2, 28.70), (139.6, 28.58), (140.1, 28.42), (140.7, 28.18),
    (141.3, 28.02), (141.6, 27.95), (142.0, 27.98), (142.4, 28.02), (143.1, 28.05), (143.4, 28.30),
    (143.8, 28.52), (144.1, 28.72), (144.4, 29.10), (144.8, 29.40), (145.1, 29.55), (145.4, 29.65),
    (146.1, 29.70), (146.6, 29.70), (147.1, 29.64), (147.4, 29.74), (147.7, 29.72), (148.0, 29.64),
    (148.4, 29.50), (148.7, 29.35), (149.1, 29.16), (149.7, 28.82), (150.4, 28.58), (151.1, 28.35),
    (151.6, 28.29), (152.2, 28.27), (152.6, 28.35), (153.2, 28.35), (153.6, 28.53), (154.1, 28.56),
    (154.6, 28.85), (155.1, 28.88), (155.4, 29.20), (155.9, 29.24), (156.2, 29.35), (156.7, 29.61),
    (157.05, 29.61), (157.3, 29.80), (157.55, 29.91), (157.95, 29.88), (158.2, 29.91), (158.4, 30.09),
    (158.7, 30.23), (159.1, 30.38), (159.45, 30.44), (159.8, 30.38), (160.1, 30.28), (160.5, 30.15),
    (160.9, 30.07), (161.2, 29.94), (161.6, 29.80), (161.95, 29.68),
]

sim_01_12 = [
    (120.0, 27.15), (120.3, 27.22), (120.6, 27.23), (120.85, 27.12), (121.1, 27.30), (121.4, 27.44),
    (121.9, 27.47), (122.2, 27.62), (122.5, 27.71), (123.1, 27.71), (123.4, 27.80), (123.75, 27.86),
    (124.0, 28.00), (124.25, 28.10), (124.7, 28.22), (125.0, 28.30), (125.25, 28.32), (125.5, 28.24),
    (125.75, 28.18), (126.2, 28.36), (126.75, 28.46), (127.3, 28.48), (127.6, 28.50), (127.9, 28.71),
    (128.3, 28.72), (128.75, 28.67), (129.2, 28.78), (129.6, 28.85), (130.1, 28.98), (130.4, 29.00),
    (130.75, 28.92), (131.1, 28.72), (131.4, 28.45), (131.75, 28.10), (132.1, 27.80), (132.4, 27.46),
    (132.9, 27.32), (133.3, 27.26), (133.7, 27.22), (134.1, 27.30), (134.35, 27.47), (134.9, 27.71),
    (135.15, 27.86), (135.4, 27.92), (136.1, 28.03), (136.5, 28.46), (137.1, 28.67), (137.6, 28.88),
    (138.4, 28.88), (138.7, 28.82), (139.2, 28.68), (139.6, 28.56), (140.1, 28.39), (140.7, 28.14),
    (141.4, 28.00), (141.8, 27.92), (142.1, 27.90), (142.4, 27.97), (143.1, 27.97), (143.4, 28.25),
    (143.8, 28.45), (144.1, 28.64), (144.4, 29.03), (144.8, 29.30), (145.1, 29.45), (145.4, 29.55),
    (145.7, 29.61), (146.6, 29.62), (147.1, 29.57), (147.4, 29.70), (147.7, 29.65), (148.0, 29.58),
    (148.4, 29.45), (148.7, 29.28), (149.1, 29.10), (149.7, 28.74), (150.4, 28.50), (151.1, 28.25),
    (151.6, 28.14), (152.2, 28.10), (152.6, 28.21), (153.1, 28.21), (153.6, 28.35), (154.1, 28.42),
    (154.4, 28.60), (154.7, 28.74), (155.1, 28.76), (155.6, 28.96), (156.1, 29.06), (156.3, 29.35),
    (156.7, 29.50), (157.1, 29.52), (157.3, 29.70), (157.6, 29.80), (158.05, 29.77), (158.3, 29.82),
    (158.4, 30.02), (158.7, 30.15), (159.2, 30.28), (159.5, 30.35), (159.8, 30.30), (160.1, 30.20),
    (160.6, 30.05), (161.1, 29.92), (161.6, 29.78), (161.9, 29.65),
]

# Day marked by the arrow
marked_day = 129.75
marked_label = "129,75"

x_ticks = [120, 125, 130, 135, 140, 145, 150, 155, 160, 165]
y_ticks = [25, 26, 27, 28, 29, 30, 31, 32, 33, 34]

BLUE, GREEN, RED = "#0000FF", "#008000", "#FF0000"

# ---------------------------------------------------------------------------
# Figure
# ---------------------------------------------------------------------------
sns.set_style("white")
plt.rcParams["font.family"] = ["Liberation Sans", "DejaVu Sans"]

W, H = 1056, 987
fig = plt.figure(figsize=(W / 100, H / 100), dpi=100)
ax_l, ax_r, ax_t, ax_b = 117, 1020, 22, 874
ax = fig.add_axes([ax_l / W, 1 - ax_b / H, (ax_r - ax_l) / W, (ax_b - ax_t) / H])


def unzip(pairs):
    return [p[0] for p in pairs], [p[1] for p in pairs]


scatter_kw = dict(marker="D", s=15, linewidth=0, ax=ax, zorder=3)
for pts, col, lab in [
    (exp_01_12, BLUE, "Norte (0,1; 1,2) - Exp."),
    (exp_01_06, GREEN, "Norte (0,1; 0,6) - Exp."),
    (exp_06_06, RED, "Norte (0,6; 0,6) - Exp."),
]:
    t, v = unzip(pts)
    sns.scatterplot(x=t, y=v, color=col, label=lab, **scatter_kw)

for pts, col, lab in [
    (sim_06_06, RED, "Norte (0,6; 0,6) - Sim."),
    (sim_01_06, GREEN, "Norte (0,1; 0,6) - Sim."),
    (sim_01_12, BLUE, "Norte (0,1; 1,2) - Sim."),
]:
    t, v = unzip(pts)
    sns.lineplot(x=t, y=v, color=col, label=lab, linewidth=1.5, sort=False,
                 estimator=None, ax=ax, zorder=4)

ax.set_xlim(120, 165)
ax.set_ylim(25, 34)
ax.set_xticks(x_ticks)
ax.set_yticks(y_ticks)
ax.set_xlabel("")
ax.set_ylabel("")

ax.set_axisbelow(True)
ax.yaxis.grid(True, color="#808080", linestyle=(0, (6.5, 3)), linewidth=1.0)
ax.xaxis.grid(False)

for side in ("top", "right"):
    ax.spines[side].set_visible(False)
ax.spines["left"].set_color("black")
ax.spines["left"].set_linewidth(1.2)
ax.spines["bottom"].set_color("#808080")
ax.spines["bottom"].set_linewidth(1.6)

ax.tick_params(axis="x", direction="out", length=7.2, width=1.0, color="black",
               pad=11.5, labelsize=20)
ax.tick_params(axis="y", direction="out", length=8.6, width=1.0, color="black",
               pad=10.8, labelsize=20)

# Arrow marking the day of interest
ax.annotate("", xy=(marked_day, 26.44), xytext=(marked_day, 25.73),
            arrowprops=dict(arrowstyle="-|>,head_length=1.1,head_width=0.55",
                            mutation_scale=14, color="black", lw=1.6,
                            shrinkA=0, shrinkB=0), zorder=6)
ax.text(128.9, 25.53, marked_label, ha="center", va="center", fontsize=20, zorder=6)

# Axis titles
fig.text(566 / W, 1 - 970 / H, "Tempo (dias)", ha="center", va="center",
         fontsize=21, fontweight="bold")
fig.text(28 / W, 1 - 448 / H, "Temperatura (ºC)", ha="center", va="center",
         rotation=90, fontsize=21, fontweight="bold")

# Legend with an opaque box
handles, labels = ax.get_legend_handles_labels()
if ax.get_legend() is not None:
    ax.get_legend().remove()
box = Rectangle((188 / W, 1 - 197 / H), (552 - 188) / W, (197 - 30) / H,
                transform=fig.transFigure, facecolor="white", edgecolor="black",
                linewidth=1.0, zorder=4)
fig.add_artist(box)
leg = fig.legend(handles, labels, loc="upper left",
                 bbox_to_anchor=(220 / W, 1 - 40 / H), bbox_transform=fig.transFigure,
                 frameon=False, fontsize=18.5, borderpad=0, borderaxespad=0,
                 handlelength=2.14, handletextpad=0.2, labelspacing=0.02,
                 scatterpoints=1, markerscale=1.0)
leg.set_zorder(5)

fig.savefig("out.png", dpi=100)
